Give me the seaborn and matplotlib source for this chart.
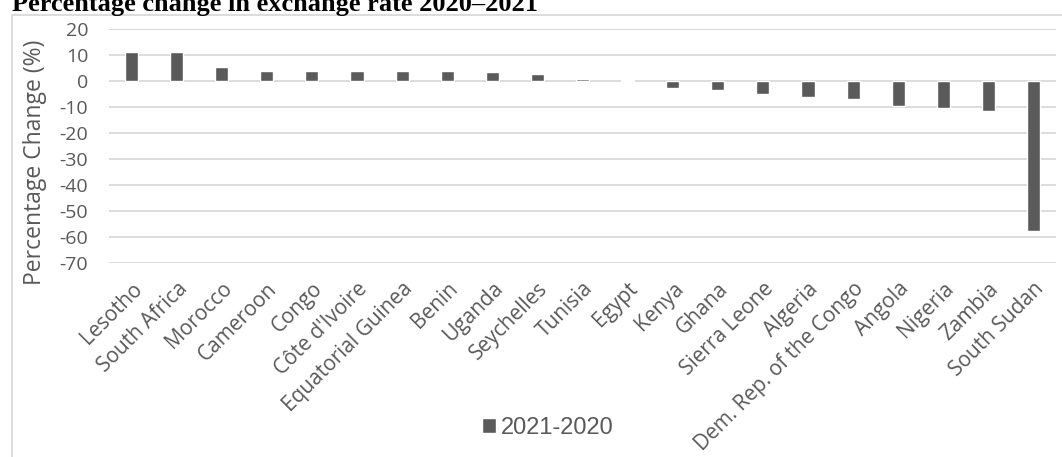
import matplotlib
matplotlib.use("Agg")
import matplotlib.pyplot as plt
import seaborn as sns
import pandas as pd
from matplotlib.patches import Rectangle

countries = ["Lesotho", "South Africa", "Morocco", "Cameroon", "Congo", "Côte d'Ivoire",
             "Equatorial Guinea", "Benin", "Uganda", "Seychelles", "Tunisia", "Egypt",
             "Kenya", "Ghana", "Sierra Leone", "Algeria", "Dem. Rep. of the Congo",
             "Angola", "Nigeria", "Zambia", "South Sudan"]
changes = [11.3, 11.3, 5.4, 3.8, 3.8, 3.8, 3.9, 3.8, 3.5, 2.9, 0.9, 0.6,
           -2.6, -3.2, -4.8, -6.1, -7.0, -9.7, -10.5, -11.6, -57.8]
series_label = "2021-2020"
yticks = [20, 10, 0, -10, -20, -30, -40, -50, -60, -70]

df = pd.DataFrame({"country": countries, "change": changes})

sns.set_theme(style="white")
plt.rcParams["font.family"] = ["Open Sans", "DejaVu Sans"]

W, H = 1062, 457
fig = plt.figure(figsize=(W / 100, H / 100), dpi=100)
ax = fig.add_axes([109 / W, 1 - 263 / H, 947 / W, 233.7 / H])

bar_color = "#5a5a5a"
text_color = "#595959"
sns.barplot(data=df, x="country", y="change", color=bar_color, width=0.29,
            saturation=1, ax=ax, label=series_label, zorder=3)

ax.set_ylim(-70, 20)
ax.set_yticks(yticks)
ax.set_yticklabels([str(t) for t in yticks], fontsize=14, color=text_color)
ax.set_xlim(-0.5, len(countries) - 0.5)
ax.grid(axis="y", color="#d9d9d9", linewidth=1.3, zorder=0)
ax.set_axisbelow(True)
for s in ax.spines.values():
    s.set_visible(False)
ax.tick_params(axis="both", length=0)
ax.tick_params(axis="y", pad=15)
ax.tick_params(axis="x", pad=11)
ax.set_xlabel("")
ax.set_ylabel("Percentage Change (%)", fontsize=16.5, color=text_color)
ax.yaxis.set_label_coords((35 - 109) / 947, (263 - 162) / 233.7)
ax.yaxis.label.set_verticalalignment("center")
plt.setp(ax.get_xticklabels(), rotation=45, ha="right", rotation_mode="anchor",
         fontsize=15, color=text_color)

if ax.get_legend() is not None:
    ax.get_legend().remove()
handles, labels = ax.get_legend_handles_labels()
leg = fig.legend(handles, labels, loc="center", bbox_to_anchor=(548 / W, 1 - 428 / H),
                 frameon=False, handlelength=0.6, handleheight=0.6, handletextpad=0.2,
                 prop={"family": "Liberation Sans", "size": 17})
for t in leg.get_texts():
    t.set_color(text_color)

# outer chart border
fig.patches.append(Rectangle((12 / W, -0.01), 1.0, 1 - 15 / H + 0.01,
                             transform=fig.transFigure, fill=False,
                             edgecolor="#d9d9d9", linewidth=1.3))

fig.text(12 / W, 1 - 11 / H, "Percentage change in exchange rate 2020\u20132021",
         family="Liberation Serif", fontweight="bold", fontsize=19, va="baseline",
         ha="left", color="black")

fig.savefig("out.png", dpi=100)
